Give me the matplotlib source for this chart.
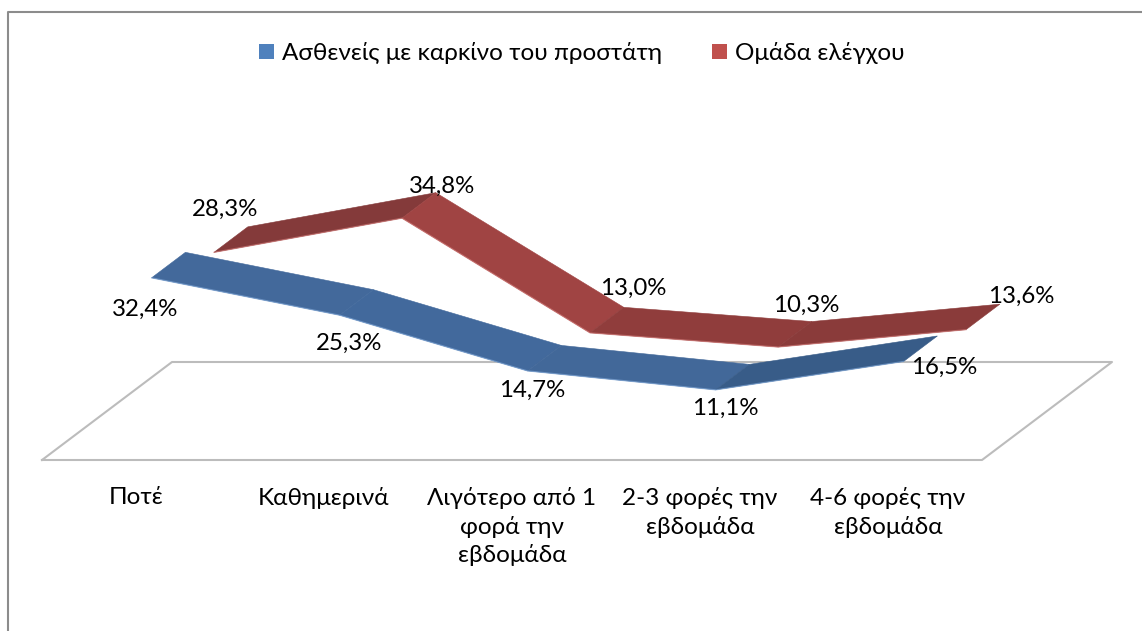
import matplotlib
matplotlib.use('Agg')
import matplotlib.pyplot as plt
from matplotlib.patches import Patch

# values in percent
categories = ['Ποτέ', 'Καθημερινά', 'Λιγότερο από 1\nφορά την\nεβδομάδα',
              '2-3 φορές την\nεβδομάδα', '4-6 φορές την\nεβδομάδα']
patients = [32.4, 25.3, 14.7, 11.1, 16.5]
controls = [28.3, 34.8, 13.0, 10.3, 13.6]
patients_name = 'Ασθενείς με καρκίνο του προστάτη'
controls_name = 'Ομάδα ελέγχου'

# one face per line segment, shade differs with the slope
patients_faces = ['#43699b', '#42699c', '#426899', '#385c88']
controls_faces = ['#843a3a', '#a04443', '#903d3c', '#8a3b3a']
# label offsets from the front edge of the ribbon, in points
patients_offsets = [(-5, -23), (7, -20), (3, -14), (7, -13), (29, -4)]
controls_offsets = [(8, 31), (29, 23), (31, 32), (20, 30), (40, 24)]

plt.rcParams['font.family'] = ['Lato', 'Open Sans', 'DejaVu Sans']

W, H = 1142, 631
fig = plt.figure(figsize=(W / 100, H / 100), dpi=100)
ax = fig.add_axes([0, 0, 1, 1])

# x in category units (188 px each), y in percent (5.26 px each)
x_step = 188.0
y_step = 5.26
x0 = 136.0
y0 = 460.0
ax.set_xlim(-x0 / x_step, (W - x0) / x_step)
ax.set_ylim((y0 - H) / y_step, y0 / y_step)
ax.axis('off')

# a step back into the chart moves right and up: oblique view
depth_x = 130.0 / x_step
depth_y = 98.0 / y_step


def ribbon(values, faces, near, far, edge):
    for i in range(len(values) - 1):
        xs = [i + near * depth_x, i + 1 + near * depth_x,
              i + 1 + far * depth_x, i + far * depth_x]
        ys = [values[i] + near * depth_y, values[i + 1] + near * depth_y,
              values[i + 1] + far * depth_y, values[i] + far * depth_y]
        ax.fill(xs, ys, color=faces[i], lw=0.4, zorder=3)
    ax.plot([i + near * depth_x for i in range(len(values))],
            [v + near * depth_y for v in values],
            color=edge, lw=0.9, alpha=0.6, zorder=4, solid_joinstyle='round')


# floor
n = len(categories)
floor_x = [-0.5, n - 0.5, n - 0.5 + depth_x, -0.5 + depth_x, -0.5]
floor_y = [0, 0, depth_y, depth_y, 0]
ax.plot(floor_x, floor_y, color='#bcbcbc', lw=1.5, zorder=1)

ribbon(patients, patients_faces, 0.12, 0.38, '#7ba4d6')
ribbon(controls, controls_faces, 0.60, 0.86, '#cf7573')

for values, near, offsets in [(patients, 0.12, patients_offsets),
                              (controls, 0.60, controls_offsets)]:
    for i, v in enumerate(values):
        ax.annotate(f'{v:.1f}%'.replace('.', ','),
                    (i + near * depth_x, v + near * depth_y),
                    xytext=offsets[i], textcoords='offset points',
                    ha='center', va='center', fontsize=17.3,
                    color='black', zorder=5)

for i, name in enumerate(categories):
    ax.annotate(name, (i, 0), xytext=(0, -19.5), textcoords='offset points',
                ha='center', va='top', fontsize=17.5, linespacing=1.36,
                color='black')

# chart border, cut by the right and bottom edge of the image
ax.plot([7.5 / W, 7.5 / W, 1], [0, 1 - 12 / H, 1 - 12 / H],
        transform=ax.transAxes, color='#8c8c8c', lw=1.5, clip_on=False)

handles = [Patch(facecolor='#4f81bd', label=patients_name),
           Patch(facecolor='#c0504d', label=controls_name)]
ax.legend(handles=handles, ncol=2, loc='center', frameon=False,
          bbox_to_anchor=(582 / W, 1 - 53 / H), fontsize=17.5,
          handlelength=0.62, handleheight=0.62, handletextpad=0.33,
          columnspacing=2.05, borderpad=0)

fig.savefig('out.png', dpi=100)
